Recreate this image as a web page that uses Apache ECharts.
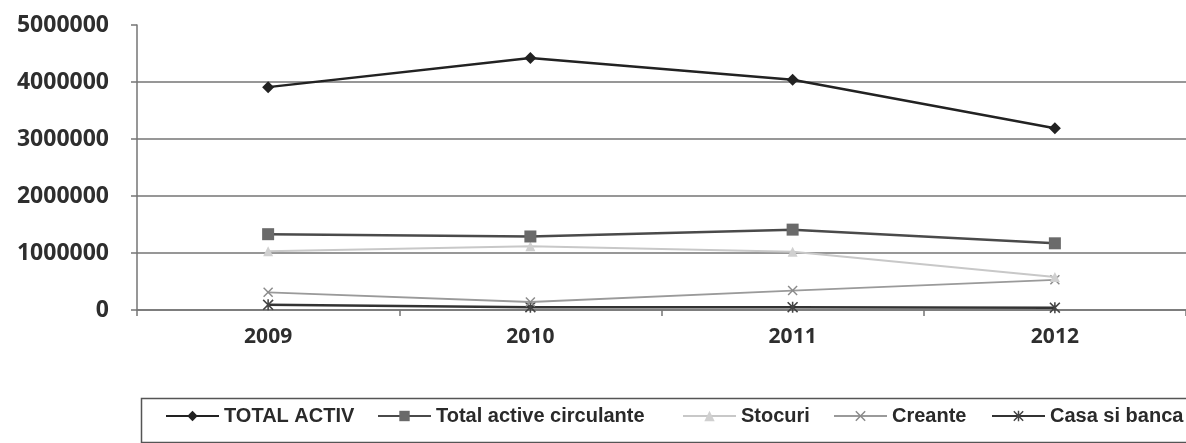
<!DOCTYPE html>
<html>
<head>
<meta charset="utf-8">
<script src="https://cdn.jsdelivr.net/npm/echarts@6/dist/echarts.min.js"></script>
<style>
html,body{margin:0;padding:0;background:#fff;}
#c{width:1186px;height:443px;}
</style>
</head>
<body>
<div id="c"></div>
<script>
var categories = ['2009', '2010', '2011', '2012'];
var seriesNames = ['TOTAL ACTIV', 'Total active circulante', 'Stocuri', 'Creante', 'Casa si banca'];
var totalActiv = [3910000, 4420000, 4040000, 3190000];
var totalActiveCirculante = [1330000, 1290000, 1410000, 1170000];
var stocuri = [1030000, 1120000, 1020000, 580000];
var creante = [310000, 140000, 340000, 530000];
var casaSiBanca = [90000, 50000, 50000, 40000];
var yTicks = [0, 1000000, 2000000, 3000000, 4000000, 5000000];

var xPath = 'path://M0,1L1,0L5,4L9,0L10,1L6,5L10,9L9,10L5,6L1,10L0,9L4,5Z';
var starPath = 'path://M0,1L1,0L5,4L9,0L10,1L6,5L10,9L9,10L5,6L1,10L0,9L4,5Z M4.3,0L5.7,0L5.7,10L4.3,10Z';

var styles = [
  {line: '#222', width: 2.5, symbol: 'diamond', size: 12, fill: '#222'},
  {line: '#4a4a4a', width: 2.5, symbol: 'rect', size: 12, fill: '#6a6a6a'},
  {line: '#c8c8c8', width: 2, symbol: 'triangle', size: 10, fill: '#d0d0d0'},
  {line: '#9a9a9a', width: 1.8, symbol: xPath, size: 10, fill: '#8a8a8a'},
  {line: '#333', width: 2.5, symbol: starPath, size: 11, fill: '#444'}
];
var dataArr = [totalActiv, totalActiveCirculante, stocuri, creante, casaSiBanca];
var legendLefts = [165, 377, 682, 833, 991];

var series = seriesNames.map(function (n, i) {
  var s = styles[i];
  return {
    name: n, type: 'line', data: dataArr[i],
    symbol: s.symbol, symbolSize: s.size,
    lineStyle: {color: s.line, width: s.width},
    itemStyle: {color: s.fill, borderColor: s.fill, borderWidth: 0},
    z: 10 - i
  };
});

var legendFont = {fontFamily: '"Liberation Sans", Arial, sans-serif', fontWeight: 'bold', fontSize: 20, color: '#2a2a2a'};
var legends = seriesNames.map(function (n, i) {
  return {
    data: [n], left: legendLefts[i], top: 406, padding: 0,
    itemWidth: 53, itemHeight: 13, itemGap: 0,
    textStyle: legendFont, selectedMode: false
  };
});

var chart = echarts.init(document.getElementById('c'), null, {renderer: 'canvas'});
chart.setOption({
  animation: false,
  backgroundColor: '#fff',
  grid: {left: 137, right: -7, top: 25, bottom: 133, containLabel: false},
  xAxis: {
    type: 'category', data: categories, boundaryGap: true,
    axisLine: {lineStyle: {color: '#757575', width: 1.5}},
    axisTick: {show: true, length: 6, lineStyle: {color: '#757575', width: 1.5}},
    axisLabel: {margin: 17, fontFamily: '"Open Sans", sans-serif', fontWeight: 'bold', fontSize: 21, color: '#2e2e2e'}
  },
  yAxis: {
    type: 'value', min: yTicks[0], max: yTicks[yTicks.length - 1], interval: 1000000,
    axisLine: {show: true, lineStyle: {color: '#757575', width: 1.5}},
    axisTick: {show: true, length: 6, lineStyle: {color: '#757575', width: 1.5}},
    axisLabel: {margin: 28, fontFamily: '"Open Sans", sans-serif', fontWeight: 'bold', fontSize: 23, color: '#2e2e2e',
      formatter: function (v) { return String(v); }},
    splitLine: {show: true, lineStyle: {color: ['#757575', '#757575', '#757575', '#757575', '#757575', 'rgba(0,0,0,0)'], width: 1.5}}
  },
  legend: legends,
  graphic: [{
    type: 'rect', left: 139, top: 396, z: -1,
    shape: {width: 1060, height: 44},
    style: {fill: 'none', stroke: '#555', lineWidth: 1.5}
  }],
  series: series
});
</script>
</body>
</html>
